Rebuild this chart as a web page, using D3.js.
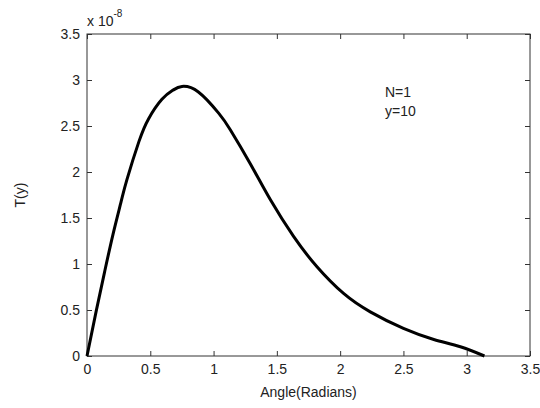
<!DOCTYPE html>
<html>
<head>
<meta charset="utf-8">
<script src="https://cdn.jsdelivr.net/npm/d3@7"></script>
<style>
  body { margin: 0; background: white; }
  text { font-family: "Liberation Sans", Arial, sans-serif; fill: #222; }
</style>
</head>
<body>
<script>
const width = 540;
const height = 408;

// angle (radians) and T(y) in units of 1e-8
const angle = [0, 0.073, 0.14, 0.205, 0.27, 0.316, 0.41, 0.487, 0.592, 0.68, 0.75, 0.88, 1.04, 1.132, 1.29, 1.448, 1.632, 1.817, 2.027, 2.238, 2.50, 2.74, 2.95, 3.14];
const tval  = [0, 0.49, 0.92, 1.32, 1.68, 1.92, 2.33, 2.58, 2.79, 2.89, 2.93, 2.87, 2.64, 2.46, 2.09, 1.70, 1.30, 0.97, 0.68, 0.48, 0.30, 0.18, 0.10, 0.0];
const xTicks = [0, 0.5, 1, 1.5, 2, 2.5, 3, 3.5];
const yTicks = [0, 0.5, 1, 1.5, 2, 2.5, 3, 3.5];
const notes = ["N=1", "y=10"];

const box = {left: 87, right: 530, top: 34, bottom: 356};

const svg = d3.select("body").append("svg")
    .attr("width", width)
    .attr("height", height);

const x = d3.scaleLinear().domain([0, 3.5]).range([box.left, box.right]);
const y = d3.scaleLinear().domain([0, 3.5]).range([box.bottom, box.top]);

const axisColor = "#333";

// box
svg.append("rect")
    .attr("x", box.left).attr("y", box.top)
    .attr("width", box.right - box.left).attr("height", box.bottom - box.top)
    .attr("fill", "none").attr("stroke", axisColor).attr("stroke-width", 1);

function styleAxis(g) {
    g.select(".domain").remove();
    g.selectAll(".tick line").attr("stroke", axisColor);
    g.selectAll(".tick text")
        .style("font-family", "'Liberation Sans', Arial, sans-serif")
        .style("font-size", "14px")
        .attr("fill", "#222");
}

// bottom / top x axes (ticks inside)
svg.append("g").attr("transform", `translate(0,${box.bottom})`)
    .call(d3.axisBottom(x).tickValues(xTicks).tickSizeInner(-5).tickSizeOuter(0).tickPadding(8).tickFormat(d3.format("")))
    .call(styleAxis);
svg.append("g").attr("transform", `translate(0,${box.top})`)
    .call(d3.axisTop(x).tickValues(xTicks).tickSizeInner(-5).tickSizeOuter(0).tickFormat(""))
    .call(styleAxis);

// left / right y axes
svg.append("g").attr("transform", `translate(${box.left},0)`)
    .call(d3.axisLeft(y).tickValues(yTicks).tickSizeInner(-5).tickSizeOuter(0).tickPadding(7).tickFormat(d3.format("")))
    .call(styleAxis);
svg.append("g").attr("transform", `translate(${box.right},0)`)
    .call(d3.axisRight(y).tickValues(yTicks).tickSizeInner(-5).tickSizeOuter(0).tickFormat(""))
    .call(styleAxis);

// exponent label
const expo = svg.append("text").attr("x", box.left).attr("y", 26).style("font-size", "14px");
expo.append("tspan").text("x 10");
expo.append("tspan").attr("dy", -9).style("font-size", "10px").text("-8");

// curve
const pts = angle.map((a, i) => [a, tval[i]]);
svg.append("path")
    .datum(pts)
    .attr("fill", "none")
    .attr("stroke", "#000")
    .attr("stroke-width", 3)
    .attr("stroke-linejoin", "round")
    .attr("d", d3.line().x(d => x(d[0])).y(d => y(d[1])).curve(d3.curveNatural));

// annotations
svg.selectAll(".note").data(notes).join("text")
    .attr("class", "note")
    .attr("x", 385)
    .attr("y", (d, i) => 97 + i * 19)
    .style("font-size", "14px")
    .text(d => d);

// axis labels
svg.append("text")
    .attr("x", (box.left + box.right) / 2)
    .attr("y", 397)
    .attr("text-anchor", "middle")
    .style("font-size", "14px")
    .text("Angle(Radians)");

svg.append("text")
    .attr("transform", `translate(25,${(box.top + box.bottom) / 2}) rotate(-90)`)
    .attr("text-anchor", "middle")
    .style("font-size", "14px")
    .text("T(y)");
</script>
</body>
</html>
